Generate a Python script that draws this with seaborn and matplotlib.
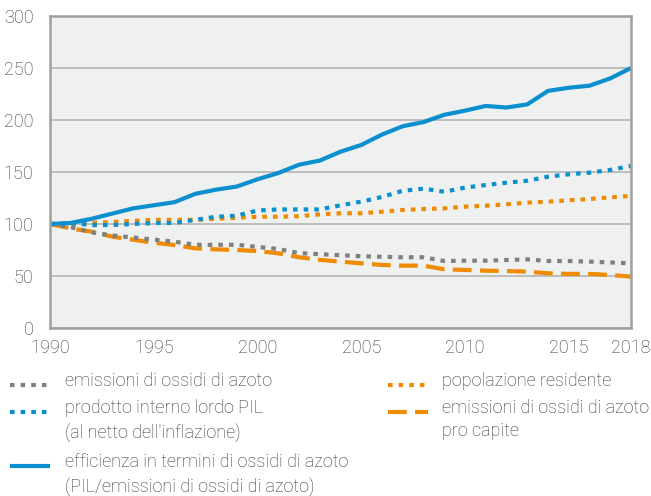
import pandas as pd
import matplotlib.pyplot as plt
import seaborn as sns
from matplotlib.lines import Line2D

# data (index 1990 = 100)
years = list(range(1990, 2019))
emissioni = [100, 97, 92, 89, 87, 85, 83, 80, 80, 80, 78, 76, 72, 71, 70,
             69, 68.5, 68, 68, 64.4, 64.7, 64.7, 65.4, 66, 64.4, 64.4, 63.8, 63, 62.2]
pil = [100, 101, 99, 99, 100, 101, 101, 104, 107, 108, 113, 114, 114, 114, 118,
       121.5, 126, 132, 134, 131, 135, 137.5, 139.7, 141.6, 145.5, 147.8, 149.4, 152, 155.8]
efficienza = [100, 101, 105, 110, 115, 118, 121, 129, 133, 136, 143, 149, 157, 161, 169.5,
              176, 186, 194, 198, 205, 209, 213.5, 212, 215, 228, 231, 233, 240, 250]
popolazione = [100, 100, 101, 102, 103, 104, 104, 104, 105, 106, 107, 107, 107.5, 109.3, 110.3,
               110.3, 111.8, 113.5, 114.4, 115, 116.7, 117.6, 119, 120.5, 121.5, 122.8, 124, 125.6, 127]
pro_capite = [100, 95.8, 92.6, 87.8, 84.9, 82, 79.8, 76.6, 75.6, 75, 74, 71.8, 68, 65.6, 63.8,
              62.2, 60.6, 60, 60, 56.4, 55.8, 55.1, 54.8, 54.2, 52.6, 52, 52, 51, 49.4]

labels = ["emissioni di ossidi di azoto",
          "prodotto interno lordo PIL\n(al netto dell'inflazione)",
          "efficienza in termini di ossidi di azoto\n(PIL/emissioni di ossidi di azoto)",
          "popolazione residente",
          "emissioni di ossidi di azoto\npro capite"]

BLUE = "#0c8fce"
ORANGE = "#f08a00"
GRAY = "#808080"
DOT = (1.1, 1.45)
DASH = (4.5, 2.0)

df = pd.DataFrame({"anno": years, "emi": emissioni, "pil": pil, "eff": efficienza,
                   "pop": popolazione, "pc": pro_capite})

# series: column, colour, dash pattern (None = solid), drawing order
styles = [("pop", ORANGE, DOT), ("pc", ORANGE, DASH), ("emi", GRAY, DOT),
          ("pil", BLUE, DOT), ("eff", BLUE, None)]

sns.set_theme(style="white")
plt.rcParams["font.family"] = ["Roboto", "DejaVu Sans"]
plt.rcParams["font.weight"] = "light"

fig = plt.figure(figsize=(6.51, 4.96), dpi=100)
ax = fig.add_axes([50 / 651, 168 / 496, 581 / 651, 312 / 496])
ax.set_facecolor("#eff0f0")

for col, color, dash in styles:
    sns.lineplot(data=df, x="anno", y=col, ax=ax, color=color, linewidth=3.0)
    ln = ax.lines[-1]
    ln.set_solid_capstyle("butt")
    ln.set_dash_capstyle("butt")
    if dash is not None:
        ln.set_dashes(dash)

ax.set_xlim(1990, 2018)
ax.set_ylim(0, 300)
ax.set_yticks(range(0, 301, 50))
ax.set_xticks([1990, 1995, 2000, 2005, 2010, 2015, 2018])
ax.set_xticks(years, minor=True)
ax.set_xlabel("")
ax.set_ylabel("")
ax.yaxis.grid(True, color="#b4b4b4", linewidth=1.2)
ax.set_axisbelow(True)
for s in ax.spines.values():
    s.set_color("#a0a0a0")
    s.set_linewidth(1.8)
ax.tick_params(axis="y", length=0, pad=12, labelsize=13, labelcolor="#333333")
ax.tick_params(axis="x", which="major", length=5, width=1.2, color="#a0a0a0",
               pad=3, labelsize=13, labelcolor="#333333")
ax.tick_params(axis="x", which="minor", length=3, width=1.0, color="#a0a0a0")

# legend, drawn by hand in two columns
entries = [(GRAY, DOT, labels[0], 10, 65, 385),
           (BLUE, DOT, labels[1], 10, 65, 412),
           (BLUE, None, labels[2], 10, 65, 466),
           (ORANGE, DOT, labels[3], 388, 442, 385),
           (ORANGE, DASH, labels[4], 388, 442, 412)]
for color, dash, text, hx, tx, y in entries:
    yf = 1 - y / 496
    h = Line2D([hx / 651, (hx + 40) / 651], [yf, yf], color=color, linewidth=3.0,
               solid_capstyle="butt", dash_capstyle="butt", transform=fig.transFigure)
    if dash is not None:
        h.set_dashes(dash)
    fig.add_artist(h)
    fig.text(tx / 651, 1 - (y - 13) / 496, text, va="top", ha="left", fontsize=13,
             color="#333333", linespacing=1.38)

fig.savefig("out.png", dpi=100)
